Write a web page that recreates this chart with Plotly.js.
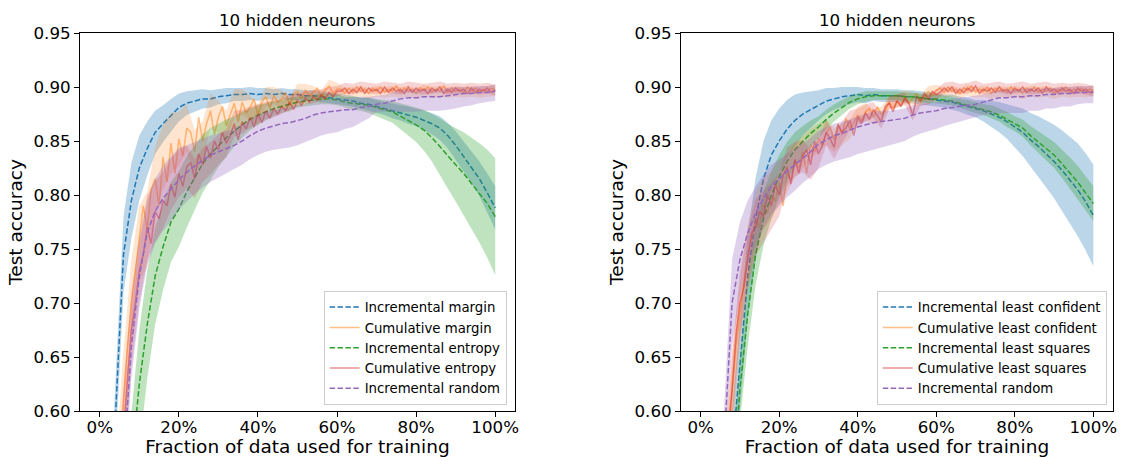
<!DOCTYPE html>
<html>
<head>
<meta charset="utf-8">
<script src="https://cdn.plot.ly/plotly-3.0.1.min.js"></script>
<style>html,body{margin:0;padding:0;background:#fff;}#chart{width:1126px;height:457px;}</style>
</head>
<body>
<div id="chart"></div>
<script>
// ---------- data ----------
const panelTitles = ['10 hidden neurons', '10 hidden neurons'];
const xTickVals = [0, 0.2, 0.4, 0.6, 0.8, 1.0];
const xTickLabels = ['0%', '20%', '40%', '60%', '80%', '100%'];
const yTickVals = [0.60, 0.65, 0.70, 0.75, 0.80, 0.85, 0.90, 0.95];
const yTickLabels = ['0.60', '0.65', '0.70', '0.75', '0.80', '0.85', '0.90', '0.95'];

const leftNames = ['Incremental margin', 'Cumulative margin', 'Incremental entropy', 'Cumulative entropy', 'Incremental random'];
const rightNames = ['Incremental least confident', 'Cumulative least confident', 'Incremental least squares', 'Cumulative least squares', 'Incremental random'];

// x grid for incremental (dashed) curves and all bands
const xInc = [
  0.02,0.04,0.06,0.08,0.10,0.12,0.14,0.16,0.18,0.20,
  0.22,0.24,0.26,0.28,0.30,0.32,0.34,0.36,0.38,0.40,
  0.42,0.44,0.46,0.48,0.50,0.52,0.54,0.56,0.58,0.60,
  0.62,0.64,0.66,0.68,0.70,0.72,0.74,0.76,0.78,0.80,
  0.82,0.84,0.86,0.88,0.90,0.92,0.94,0.96,0.98,1.00];
// x grid for cumulative (solid, noisy) curves
const xCum = [
  0.01,0.02,0.03,0.04,0.05,0.06,0.07,0.08,0.09,0.10,
  0.11,0.12,0.13,0.14,0.15,0.16,0.17,0.18,0.19,0.20,
  0.21,0.22,0.23,0.24,0.25,0.26,0.27,0.28,0.29,0.30,
  0.31,0.32,0.33,0.34,0.35,0.36,0.37,0.38,0.39,0.40,
  0.41,0.42,0.43,0.44,0.45,0.46,0.47,0.48,0.49,0.50,
  0.51,0.52,0.53,0.54,0.55,0.56,0.57,0.58,0.59,0.60,
  0.61,0.62,0.63,0.64,0.65,0.66,0.67,0.68,0.69,0.70,
  0.71,0.72,0.73,0.74,0.75,0.76,0.77,0.78,0.79,0.80,
  0.81,0.82,0.83,0.84,0.85,0.86,0.87,0.88,0.89,0.90,
  0.91,0.92,0.93,0.94,0.95,0.96,0.97,0.98,0.99,1.00];

// ----- left panel -----
const L_incMargin = [
  0.45,0.60,0.745,0.795,0.825,0.843,0.858,0.866,0.874,0.881,
  0.885,0.887,0.889,0.889,0.891,0.892,0.893,0.893,0.894,0.893,
  0.894,0.893,0.894,0.893,0.893,0.892,0.892,0.891,0.890,0.889,
  0.888,0.887,0.885,0.884,0.882,0.880,0.878,0.876,0.874,0.872,
  0.869,0.866,0.862,0.855,0.846,0.836,0.826,0.815,0.802,0.788];
const L_incMarginSpread = [
  0.03,0.035,0.035,0.035,0.03,0.025,0.02,0.017,0.015,0.013,
  0.011,0.01,0.009,0.008,0.007,0.007,0.006,0.006,0.006,0.006,
  0.005,0.005,0.005,0.005,0.005,0.005,0.005,0.005,0.005,0.005,
  0.005,0.005,0.005,0.006,0.006,0.006,0.007,0.007,0.008,0.008,
  0.009,0.010,0.011,0.012,0.013,0.014,0.015,0.016,0.018,0.020];
const L_incEntropy = [
  0.30,0.40,0.47,0.55,0.625,0.68,0.725,0.752,0.775,0.787,
  0.803,0.816,0.829,0.838,0.846,0.853,0.859,0.865,0.870,0.874,
  0.877,0.880,0.882,0.884,0.886,0.887,0.888,0.889,0.889,0.888,
  0.886,0.885,0.884,0.883,0.881,0.879,0.877,0.873,0.869,0.865,
  0.860,0.853,0.845,0.836,0.828,0.820,0.811,0.802,0.792,0.780];
const L_incEntropySpread = [
  0.04,0.05,0.05,0.05,0.05,0.05,0.045,0.04,0.037,0.035,
  0.033,0.03,0.027,0.024,0.02,0.017,0.014,0.012,0.01,0.009,
  0.008,0.007,0.006,0.006,0.005,0.005,0.005,0.005,0.005,0.005,
  0.005,0.006,0.006,0.007,0.008,0.009,0.01,0.012,0.014,0.016,
  0.019,0.022,0.026,0.03,0.034,0.038,0.042,0.046,0.05,0.054];
const L_incRandom = [
  0.35,0.45,0.55,0.66,0.725,0.765,0.785,0.797,0.806,0.814,
  0.821,0.827,0.832,0.837,0.840,0.843,0.846,0.850,0.855,0.859,
  0.862,0.864,0.866,0.867,0.869,0.871,0.874,0.876,0.877,0.878,
  0.879,0.879,0.881,0.882,0.884,0.885,0.887,0.889,0.890,0.890,
  0.891,0.891,0.891,0.892,0.893,0.894,0.894,0.895,0.895,0.896];
const L_incRandomLo = [
  0.03,0.03,0.03,0.03,0.03,0.03,0.03,0.03,0.03,0.028,
  0.027,0.026,0.025,0.025,0.024,0.023,0.022,0.022,0.022,0.022,
  0.022,0.022,0.023,0.023,0.023,0.022,0.022,0.021,0.020,0.020,
  0.018,0.016,0.014,0.011,0.007,0.008,0.010,0.012,0.013,0.013,
  0.013,0.013,0.013,0.013,0.013,0.012,0.011,0.010,0.009,0.009];
const L_incRandomHi = [
  0.03,0.03,0.03,0.03,0.03,0.03,0.03,0.03,0.03,0.03,
  0.025,0.022,0.02,0.018,0.017,0.016,0.016,0.015,0.015,0.015,
  0.015,0.015,0.014,0.014,0.014,0.013,0.013,0.012,0.012,0.012,
  0.011,0.011,0.010,0.009,0.008,0.008,0.008,0.008,0.008,0.008,
  0.007,0.007,0.007,0.007,0.007,0.006,0.006,0.006,0.006,0.006];
const L_cumMargin = [
  0.30,0.38,0.45,0.51,0.56,0.615,0.66,0.70,0.73,0.755,
  0.79,0.768,0.805,0.815,0.79,0.835,0.812,0.848,0.82,0.852,
  0.836,0.862,0.858,0.84,0.872,0.85,0.866,0.878,0.856,0.872,
  0.882,0.864,0.875,0.885,0.868,0.886,0.876,0.881,0.889,0.874,
  0.886,0.891,0.88,0.892,0.886,0.889,0.895,0.883,0.893,0.896,
  0.889,0.897,0.892,0.895,0.899,0.891,0.897,0.901,0.894,0.898,
  0.898,0.894,0.899,0.895,0.900,0.896,0.898,0.894,0.899,0.896,
  0.900,0.895,0.898,0.896,0.901,0.895,0.899,0.896,0.898,0.894,
  0.899,0.897,0.900,0.895,0.898,0.896,0.901,0.895,0.899,0.896,
  0.898,0.895,0.900,0.896,0.899,0.895,0.898,0.896,0.899,0.897];
const L_cumMarginSpread = [
  0.03,0.04,0.04,0.04,0.035,0.035,0.03,0.03,0.028,0.025,
  0.022,0.02,0.018,0.016,0.015,0.014,0.013,0.012,0.011,0.010,
  0.009,0.008,0.008,0.007,0.007,0.006,0.006,0.006,0.006,0.006,
  0.005,0.005,0.005,0.005,0.005,0.005,0.005,0.005,0.005,0.005,
  0.005,0.005,0.005,0.005,0.005,0.005,0.005,0.005,0.005,0.005];
const L_cumEntropy = [
  0.28,0.36,0.42,0.48,0.53,0.585,0.63,0.675,0.70,0.73,
  0.745,0.77,0.755,0.785,0.778,0.795,0.79,0.81,0.798,0.82,
  0.808,0.826,0.83,0.815,0.838,0.828,0.845,0.834,0.85,0.842,
  0.858,0.848,0.855,0.866,0.851,0.868,0.861,0.872,0.863,0.875,
  0.867,0.878,0.871,0.88,0.875,0.882,0.878,0.886,0.879,0.888,
  0.883,0.89,0.886,0.891,0.888,0.893,0.889,0.895,0.891,0.896,
  0.896,0.899,0.894,0.898,0.895,0.900,0.894,0.899,0.896,0.898,
  0.894,0.900,0.895,0.899,0.896,0.898,0.894,0.900,0.895,0.899,
  0.896,0.898,0.894,0.899,0.896,0.900,0.894,0.898,0.895,0.899,
  0.896,0.898,0.894,0.899,0.895,0.898,0.896,0.899,0.895,0.897];
const L_cumEntropySpread = [
  0.03,0.035,0.035,0.035,0.03,0.03,0.028,0.026,0.024,0.022,
  0.02,0.018,0.016,0.015,0.014,0.013,0.012,0.011,0.010,0.009,
  0.008,0.008,0.007,0.007,0.006,0.006,0.006,0.005,0.005,0.005,
  0.005,0.005,0.005,0.005,0.005,0.005,0.005,0.005,0.005,0.005,
  0.005,0.005,0.005,0.005,0.005,0.005,0.005,0.005,0.005,0.005];

// ----- right panel -----
const R_incLeastConf = [
  0.30,0.38,0.46,0.56,0.645,0.725,0.778,0.815,0.837,0.850,
  0.861,0.869,0.875,0.879,0.883,0.887,0.889,0.891,0.892,0.893,
  0.892,0.893,0.892,0.892,0.892,0.891,0.891,0.890,0.889,0.888,
  0.887,0.886,0.884,0.882,0.880,0.878,0.875,0.872,0.868,0.863,
  0.858,0.851,0.845,0.838,0.831,0.823,0.814,0.805,0.794,0.781];
const R_incLeastConfSpread = [
  0.03,0.035,0.04,0.04,0.04,0.04,0.038,0.035,0.032,0.03,
  0.027,0.024,0.02,0.017,0.014,0.012,0.01,0.009,0.008,0.007,
  0.007,0.006,0.006,0.006,0.006,0.006,0.006,0.006,0.006,0.006,
  0.006,0.007,0.007,0.008,0.008,0.01,0.012,0.014,0.016,0.019,
  0.022,0.025,0.028,0.031,0.034,0.037,0.04,0.043,0.045,0.047];
const R_incLeastSq = [
  0.28,0.35,0.43,0.52,0.62,0.69,0.745,0.778,0.800,0.817,
  0.831,0.842,0.850,0.857,0.863,0.870,0.876,0.881,0.886,0.889,
  0.891,0.892,0.892,0.892,0.892,0.891,0.891,0.890,0.889,0.889,
  0.888,0.887,0.885,0.883,0.881,0.879,0.877,0.874,0.870,0.866,
  0.862,0.855,0.849,0.843,0.837,0.829,0.821,0.812,0.802,0.792];
const R_incLeastSqSpread = [
  0.03,0.03,0.03,0.03,0.03,0.03,0.028,0.025,0.022,0.02,
  0.018,0.016,0.014,0.012,0.01,0.009,0.008,0.007,0.006,0.005,
  0.005,0.004,0.004,0.004,0.004,0.004,0.004,0.004,0.004,0.004,
  0.004,0.004,0.004,0.005,0.005,0.005,0.006,0.006,0.007,0.007,
  0.008,0.009,0.01,0.011,0.012,0.013,0.014,0.015,0.016,0.016];
const R_incRandom = [
  0.35,0.45,0.57,0.70,0.74,0.765,0.783,0.797,0.808,0.815,
  0.822,0.828,0.834,0.840,0.847,0.851,0.855,0.857,0.860,0.863,
  0.865,0.867,0.868,0.869,0.870,0.871,0.874,0.876,0.877,0.878,
  0.880,0.881,0.882,0.883,0.884,0.886,0.888,0.890,0.890,0.891,
  0.891,0.892,0.892,0.893,0.893,0.894,0.894,0.895,0.895,0.895];
const R_incRandomLo = [
  0.03,0.03,0.035,0.04,0.035,0.03,0.03,0.028,0.026,0.025,
  0.024,0.024,0.023,0.023,0.023,0.023,0.024,0.024,0.025,0.025,
  0.025,0.025,0.024,0.023,0.022,0.021,0.020,0.019,0.018,0.017,
  0.016,0.015,0.014,0.013,0.012,0.012,0.013,0.014,0.014,0.015,
  0.015,0.014,0.014,0.013,0.013,0.012,0.012,0.011,0.010,0.010];
const R_incRandomHi = [
  0.03,0.03,0.035,0.04,0.035,0.03,0.025,0.022,0.02,0.018,
  0.016,0.015,0.014,0.013,0.012,0.012,0.011,0.011,0.010,0.010,
  0.010,0.010,0.010,0.009,0.009,0.009,0.009,0.008,0.008,0.008,
  0.008,0.008,0.008,0.008,0.008,0.007,0.007,0.007,0.007,0.007,
  0.007,0.007,0.006,0.006,0.006,0.006,0.006,0.006,0.006,0.006];
const R_cumLeastConf = [
  0.25,0.30,0.36,0.42,0.48,0.53,0.575,0.62,0.66,0.69,
  0.72,0.745,0.76,0.778,0.77,0.792,0.783,0.80,0.794,0.812,
  0.79,0.82,0.814,0.832,0.825,0.84,0.82,0.847,0.84,0.853,
  0.846,0.858,0.863,0.851,0.866,0.856,0.871,0.861,0.867,0.874,
  0.869,0.877,0.880,0.872,0.882,0.875,0.878,0.886,0.880,0.887,
  0.883,0.891,0.885,0.889,0.894,0.888,0.891,0.896,0.892,0.897,
  0.899,0.895,0.900,0.896,0.898,0.894,0.899,0.897,0.901,0.895,
  0.898,0.896,0.900,0.894,0.899,0.896,0.898,0.895,0.900,0.896,
  0.898,0.894,0.899,0.896,0.900,0.895,0.898,0.896,0.899,0.894,
  0.898,0.896,0.900,0.895,0.898,0.896,0.899,0.895,0.898,0.897];
const R_cumLeastConfSpread = [
  0.03,0.035,0.035,0.035,0.03,0.028,0.026,0.024,0.022,0.02,
  0.018,0.016,0.015,0.014,0.013,0.012,0.011,0.010,0.009,0.008,
  0.008,0.007,0.007,0.006,0.006,0.006,0.006,0.005,0.005,0.005,
  0.005,0.005,0.005,0.005,0.005,0.005,0.005,0.005,0.005,0.005,
  0.005,0.005,0.005,0.005,0.005,0.005,0.005,0.005,0.005,0.005];
const R_cumLeastSq = [
  0.24,0.29,0.35,0.41,0.47,0.52,0.58,0.62,0.67,0.70,
  0.715,0.74,0.765,0.77,0.785,0.78,0.80,0.79,0.81,0.80,
  0.818,0.826,0.81,0.833,0.82,0.836,0.842,0.828,0.85,0.838,
  0.846,0.858,0.852,0.844,0.865,0.858,0.862,0.869,0.855,0.872,
  0.866,0.876,0.87,0.879,0.873,0.868,0.882,0.885,0.877,0.887,
  0.882,0.889,0.885,0.874,0.891,0.887,0.894,0.889,0.896,0.893,
  0.895,0.899,0.896,0.900,0.894,0.898,0.895,0.899,0.896,0.901,
  0.894,0.898,0.896,0.899,0.895,0.900,0.896,0.898,0.894,0.899,
  0.896,0.900,0.895,0.898,0.896,0.899,0.894,0.900,0.896,0.898,
  0.895,0.899,0.896,0.898,0.894,0.899,0.896,0.898,0.895,0.896];
const R_cumLeastSqSpread = [
  0.03,0.035,0.035,0.03,0.03,0.028,0.026,0.024,0.022,0.02,
  0.018,0.016,0.015,0.014,0.013,0.012,0.011,0.010,0.009,0.008,
  0.008,0.007,0.007,0.006,0.006,0.006,0.005,0.005,0.005,0.005,
  0.005,0.005,0.005,0.005,0.005,0.005,0.005,0.005,0.005,0.005,
  0.005,0.005,0.005,0.005,0.005,0.005,0.005,0.005,0.005,0.005];

// ---------- styling ----------
const C = {
  blue:   ['#1f77b4', 'rgba(31,119,180,0.3)'],
  orange: ['rgba(255,127,14,0.5)', 'rgba(255,127,14,0.2)'],
  green:  ['#2ca02c', 'rgba(44,160,44,0.3)'],
  red:    ['rgba(214,39,40,0.5)', 'rgba(214,39,40,0.2)'],
  purple: ['#9467bd', 'rgba(148,103,189,0.3)']
};
const FONT = 'DejaVu Sans, Liberation Sans, sans-serif';

function everyOther(arr) { return arr.filter((_, i) => i % 2 === 1); }

function bandTrace(xs, center, lo, hi, fill, xa, ya) {
  const upper = center.map((v, i) => v + hi[i]);
  const lower = center.map((v, i) => v - lo[i]);
  return {
    type: 'scatter', mode: 'lines',
    x: xs.concat(xs.slice().reverse()),
    y: upper.concat(lower.slice().reverse()),
    fill: 'toself', fillcolor: fill, line: {width: 0, color: fill},
    showlegend: false, hoverinfo: 'skip', xaxis: xa, yaxis: ya
  };
}
function lineTrace(xs, ys, name, color, dashed, xa, ya, legend) {
  return {
    type: 'scatter', mode: 'lines', x: xs, y: ys, name: name,
    line: {color: color, width: 1.5, dash: dashed ? '5.5px,2.4px' : 'solid'},
    xaxis: xa, yaxis: ya, legend: legend
  };
}

function panel(names, inc1, inc1S, cum1, cum1S, inc2, inc2S, cum2, cum2S, rnd, rndLo, rndHi, xa, ya, legend) {
  return [
    bandTrace(xInc, inc1, inc1S, inc1S, C.blue[1], xa, ya),
    lineTrace(xInc, inc1, names[0], C.blue[0], true, xa, ya, legend),
    bandTrace(xInc, everyOther(cum1), cum1S, cum1S, C.orange[1], xa, ya),
    lineTrace(xCum, cum1, names[1], C.orange[0], false, xa, ya, legend),
    bandTrace(xInc, inc2, inc2S, inc2S, C.green[1], xa, ya),
    lineTrace(xInc, inc2, names[2], C.green[0], true, xa, ya, legend),
    bandTrace(xInc, everyOther(cum2), cum2S, cum2S, C.red[1], xa, ya),
    lineTrace(xCum, cum2, names[3], C.red[0], false, xa, ya, legend),
    bandTrace(xInc, rnd, rndLo, rndHi, C.purple[1], xa, ya),
    lineTrace(xInc, rnd, names[4], C.purple[0], true, xa, ya, legend)
  ];
}

const traces = [].concat(
  panel(leftNames, L_incMargin, L_incMarginSpread, L_cumMargin, L_cumMarginSpread,
        L_incEntropy, L_incEntropySpread, L_cumEntropy, L_cumEntropySpread,
        L_incRandom, L_incRandomLo, L_incRandomHi, 'x', 'y', 'legend'),
  panel(rightNames, R_incLeastConf, R_incLeastConfSpread, R_cumLeastConf, R_cumLeastConfSpread,
        R_incLeastSq, R_incLeastSqSpread, R_cumLeastSq, R_cumLeastSqSpread,
        R_incRandom, R_incRandomLo, R_incRandomHi, 'x2', 'y2', 'legend2')
);

function xAxis(domain, anchor) {
  return {
    domain: domain, anchor: anchor, range: [-0.05, 1.05],
    tickvals: xTickVals, ticktext: xTickLabels,
    showline: true, mirror: true, linecolor: '#000', linewidth: 1,
    ticks: 'outside', ticklen: 5, tickcolor: '#000', tickwidth: 1,
    ticklabelstandoff: -4,
    showgrid: false, zeroline: false,
    tickfont: {size: 16.7, family: FONT, color: '#000'},
    title: {text: 'Fraction of data used for training', font: {size: 18.5, family: FONT, color: '#000'}, standoff: 8}
  };
}
function yAxis(anchor) {
  return {
    domain: [0, 1], anchor: anchor, range: [0.6, 0.95],
    tickvals: yTickVals, ticktext: yTickLabels,
    showline: true, mirror: true, linecolor: '#000', linewidth: 1,
    ticks: 'outside', ticklen: 5, tickcolor: '#000', tickwidth: 1,
    showgrid: false, zeroline: false,
    tickfont: {size: 16.7, family: FONT, color: '#000'},
    title: {text: 'Test accuracy', font: {size: 18.5, family: FONT, color: '#000'}, standoff: 6}
  };
}
function legendBox(xRight) {
  return {
    x: xRight, xanchor: 'right', y: 0.016, yanchor: 'bottom',
    bgcolor: 'rgba(255,255,255,0.8)', bordercolor: '#cccccc', borderwidth: 1,
    font: {size: 13.3, family: FONT, color: '#000'}, tracegroupgap: 0
  };
}

const layout = {
  width: 1126, height: 457,
  margin: {l: 80, r: 13, t: 33, b: 46, pad: 0},
  paper_bgcolor: '#fff', plot_bgcolor: '#fff',
  font: {family: FONT, size: 16.7, color: '#000'},
  showlegend: true,
  xaxis: xAxis([0, 0.4211], 'y'),
  yaxis: yAxis('x'),
  xaxis2: xAxis([0.5818, 1], 'y2'),
  yaxis2: yAxis('x2'),
  legend: legendBox(0.413),
  legend2: legendBox(0.994),
  annotations: [
    {text: panelTitles[0], xref: 'paper', yref: 'paper', x: 0.4211 / 2, y: 1, xanchor: 'center', yanchor: 'bottom', yshift: 1, showarrow: false, font: {size: 16.7, family: FONT, color: '#000'}},
    {text: panelTitles[1], xref: 'paper', yref: 'paper', x: (0.5818 + 1) / 2, y: 1, xanchor: 'center', yanchor: 'bottom', yshift: 1, showarrow: false, font: {size: 16.7, family: FONT, color: '#000'}}
  ]
};

Plotly.newPlot('chart', traces, layout, {staticPlot: true, displayModeBar: false});
</script>
</body>
</html>
